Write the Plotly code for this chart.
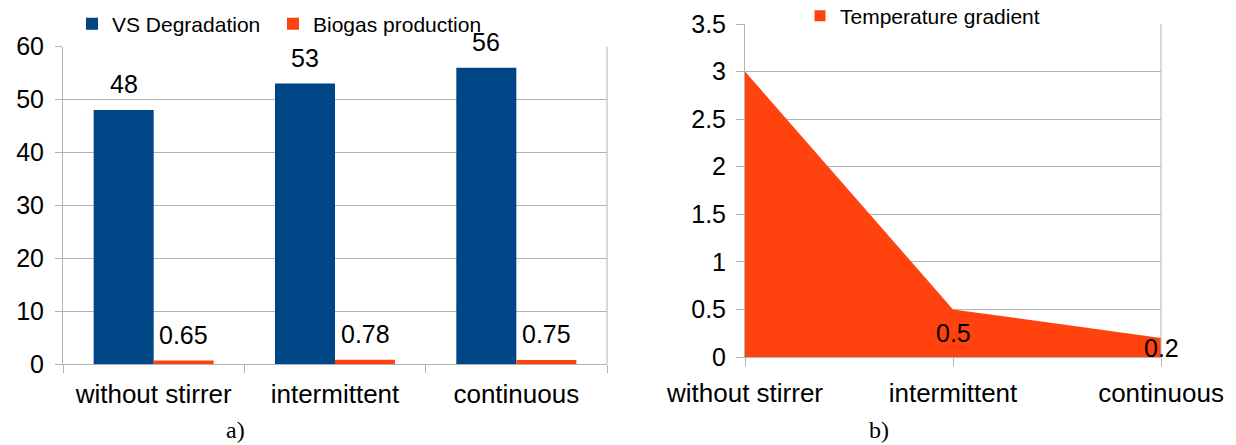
import plotly.graph_objects as go

# ---- data ----
categories = ["without stirrer", "intermittent", "continuous"]
vs_degradation = [48, 53, 56]
biogas_production = [0.65, 0.78, 0.75]
temperature_gradient = [3, 0.5, 0.2]
temp_labelled = [False, True, True]

left_ticks = [0, 10, 20, 30, 40, 50, 60]
right_ticks = [0, 0.5, 1, 1.5, 2, 2.5, 3, 3.5]

BLUE = "#004586"
ORANGE = "#ff420e"
GRID = "#b3b3b3"
FONT = "Liberation Sans, Arial, sans-serif"
SERIF = "Liberation Serif, Times New Roman, serif"
W, H = 1236, 445

def px_x(a, b):
    return [a / W, b / W]

def px_y(top, bottom):
    return [(H - bottom) / H, (H - top) / H]

fig = go.Figure()

fig.add_trace(go.Bar(x=categories, y=vs_degradation, name="VS Degradation",
                     marker=dict(color=BLUE, line=dict(width=0)),
                     xaxis="x", yaxis="y", legend="legend"))
fig.add_trace(go.Bar(x=categories, y=biogas_production, name="Biogas production",
                     marker=dict(color=ORANGE, line=dict(width=0)),
                     xaxis="x", yaxis="y", legend="legend2"))

fig.add_trace(go.Scatter(x=categories, y=temperature_gradient, mode="lines",
                         fill="tozeroy", fillcolor=ORANGE,
                         line=dict(width=0, color=ORANGE),
                         showlegend=False, xaxis="x2", yaxis="y2"))
fig.add_trace(go.Scatter(x=[None], y=[None], mode="markers", name="Temperature gradient",
                         marker=dict(symbol="square", size=11, color=ORANGE),
                         xaxis="x2", yaxis="y2", legend="legend3"))

annotations = []
# bar value labels
for cat, v in zip(categories, vs_degradation):
    annotations.append(dict(x=cat, y=v, xref="x", yref="y", text=str(v), showarrow=False,
                            xshift=-30, yshift=10, yanchor="bottom",
                            font=dict(size=25, color="black", family=FONT)))
for cat, v in zip(categories, biogas_production):
    annotations.append(dict(x=cat, y=v, xref="x", yref="y", text=f"{v:g}", showarrow=False,
                            xshift=30, yshift=10, yanchor="bottom",
                            font=dict(size=25, color="black", family=FONT)))
# area value labels (below the point, kept inside the plot area)
area_yshift = {1: -8, 2: 6}
for i, (cat, v, show) in enumerate(zip(categories, temperature_gradient, temp_labelled)):
    if show:
        annotations.append(dict(x=cat, y=v, xref="x2", yref="y2", text=f"{v:g}", showarrow=False,
                                xshift=0, yshift=area_yshift[i], yanchor="top", xanchor="center",
                                font=dict(size=25, color="black", family=FONT)))
# captions
for txt, cx in (("a)", 235.5), ("b)", 879)):
    annotations.append(dict(x=cx / W, y=(H - 430) / H, xref="paper", yref="paper", text=txt,
                            xanchor="center", yanchor="middle", showarrow=False,
                            font=dict(size=24, color="black", family=SERIF)))

shapes = [
    dict(type="line", xref="x domain", yref="y domain", x0=1, x1=1, y0=0, y1=1,
         line=dict(color=GRID, width=1)),
    dict(type="line", xref="x2 domain", yref="y2 domain", x0=1, x1=1, y0=0, y1=1,
         line=dict(color=GRID, width=1)),
]

axis_common = dict(showline=True, linecolor=GRID, linewidth=1, ticks="outside",
                   tickcolor=GRID, zeroline=False, fixedrange=True, automargin=False)
xfont = dict(size=26, color="black", family=FONT)
yfont = dict(size=25, color="black", family=FONT)

legend_common = dict(orientation="h", bgcolor="rgba(0,0,0,0)", borderwidth=0,
                     font=dict(size=21, color="black", family=FONT),
                     xanchor="left", yanchor="middle", itemwidth=30)

fig.update_layout(
    width=W, height=H,
    margin=dict(l=0, r=0, t=0, b=0, autoexpand=False),
    paper_bgcolor="white", plot_bgcolor="white",
    barmode="group", bargap=0.338, bargroupgap=0,
    font=dict(family=FONT, color="black"),
    xaxis=dict(domain=px_x(63, 607), type="category", tickson="boundaries", ticklen=8,
               showgrid=False, anchor="y", tickfont=xfont, ticklabelstandoff=7, **axis_common),
    yaxis=dict(domain=px_y(46.5, 364), range=[0, 60], tickvals=left_ticks, ticklen=7,
               showgrid=True, gridcolor=GRID, gridwidth=1, anchor="x", tickfont=yfont,
               ticklabelstandoff=6, **axis_common),
    xaxis2=dict(domain=px_x(745, 1161), type="category", range=[0, 2], ticklen=8,
                showgrid=False, anchor="y2", tickfont=xfont, ticklabelstandoff=5, **axis_common),
    yaxis2=dict(domain=px_y(24, 357), range=[0, 3.5], tickvals=right_ticks, ticklen=8,
                showgrid=True, gridcolor=GRID, gridwidth=1, anchor="x2", tickfont=yfont,
                ticklabelstandoff=5, **axis_common),
    legend=dict(x=72 / W, y=(H - 24) / H, **legend_common),
    legend2=dict(x=273 / W, y=(H - 24) / H, **legend_common),
    legend3=dict(x=800 / W, y=(H - 16) / H, **legend_common),
    annotations=annotations,
    shapes=shapes,
)

fig.write_html("out.html", config={"displayModeBar": False},
               post_script="document.body.style.margin='0';")
